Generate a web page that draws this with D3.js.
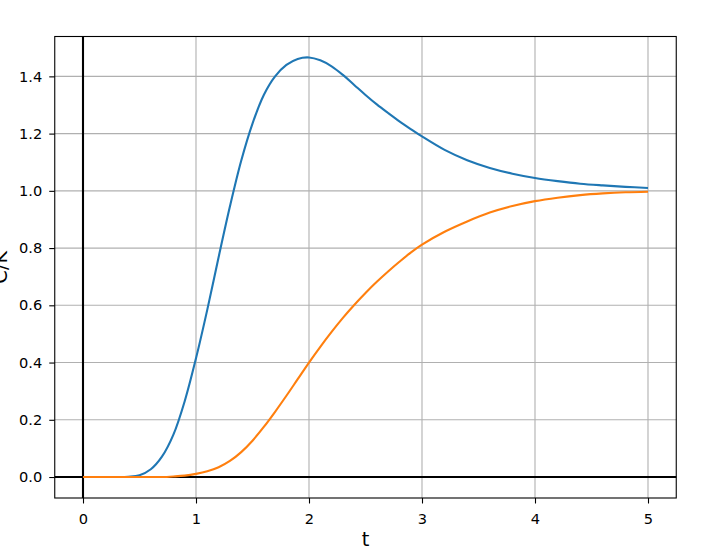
<!DOCTYPE html>
<html>
<head>
<meta charset="utf-8">
<script src="https://cdn.jsdelivr.net/npm/d3@7"></script>
<style>
  body { margin: 0; background: #fff; }
  svg { display: block; }
  text { font-family: "DejaVu Sans", sans-serif; font-size: 14.6px; fill: #000; }
</style>
</head>
<body>
<div id="viz"></div>
<script>
// time points and the two step responses
var tValues = [0, 0.1, 0.2, 0.3, 0.4, 0.5, 0.6, 0.7, 0.8, 0.9,
               1.0, 1.1, 1.2, 1.3, 1.4, 1.5, 1.6, 1.7, 1.8, 1.9,
               2.0, 2.1, 2.2, 2.3, 2.4, 2.5, 2.6, 2.7, 2.8, 2.9,
               3.0, 3.2, 3.4, 3.6, 3.8, 4.0, 4.2, 4.4, 4.6, 4.8, 5.0];
var blueValues = [0, 0, 0, 0, 0.001, 0.006, 0.027, 0.072, 0.148, 0.265,
                  0.415, 0.585, 0.768, 0.945, 1.105, 1.235, 1.335, 1.40, 1.44, 1.461,
                  1.466, 1.456, 1.435, 1.405, 1.37, 1.335, 1.302, 1.272, 1.243, 1.216,
                  1.19, 1.143, 1.107, 1.08, 1.06, 1.045, 1.034, 1.025, 1.019, 1.014, 1.01];
var orangeValues = [0, 0, 0, 0, 0, 0, 0, 0, 0.002, 0.005,
                    0.011, 0.02, 0.034, 0.056, 0.087, 0.127, 0.175, 0.228, 0.284, 0.342,
                    0.40, 0.455, 0.507, 0.556, 0.601, 0.643, 0.682, 0.718, 0.752, 0.784,
                    0.812, 0.857, 0.893, 0.924, 0.947, 0.964, 0.976, 0.985, 0.991, 0.995, 0.997];
var xTicks = [0, 1, 2, 3, 4, 5];
var yTicks = [0, 0.2, 0.4, 0.6, 0.8, 1.0, 1.2, 1.4];
var xLabel = 't';
var yLabel = 'C/K';
var colors = ['#1f77b4', '#ff7f0e'];

var W = 724, H = 550;
// plot box (don't call these top/left: window.top is read-only)
var boxL = 54.75, boxR = 676.25, boxT = 36.5, boxB = 498;

var svg = d3.select('#viz')
    .append('svg')
    .attr('width', W)
    .attr('height', H);

// matplotlib-like 5% margins
var xExt = d3.extent(tValues);
var xPad = (xExt[1] - xExt[0]) * 0.05;
var yExt = d3.extent(blueValues.concat(orangeValues));
var yPad = (yExt[1] - yExt[0]) * 0.05;

var x = d3.scaleLinear().domain([xExt[0] - xPad, xExt[1] + xPad]).range([boxL, boxR]);
var y = d3.scaleLinear().domain([yExt[0] - yPad, yExt[1] + yPad]).range([boxB, boxT]);

// grid
var grid = svg.append('g');
grid.selectAll('.gx').data(xTicks).enter().append('line')
    .attr('x1', function(d){ return x(d); })
    .attr('x2', function(d){ return x(d); })
    .attr('y1', boxT).attr('y2', boxB)
    .style('stroke', '#b0b0b0').style('stroke-width', 1.1);
grid.selectAll('.gy').data(yTicks).enter().append('line')
    .attr('y1', function(d){ return y(d); })
    .attr('y2', function(d){ return y(d); })
    .attr('x1', boxL).attr('x2', boxR)
    .style('stroke', '#b0b0b0').style('stroke-width', 1.1);

// zero lines
svg.append('line')
    .attr('x1', boxL).attr('x2', boxR)
    .attr('y1', y(0)).attr('y2', y(0))
    .style('stroke', '#000').style('stroke-width', 2.1);
svg.append('line')
    .attr('x1', x(0)).attr('x2', x(0))
    .attr('y1', boxT).attr('y2', boxB)
    .style('stroke', '#000').style('stroke-width', 2.1);

// curves
var series = [blueValues, orangeValues];
var line = d3.line()
    .x(function(d, i){ return x(tValues[i]); })
    .y(function(d){ return y(d); })
    .curve(d3.curveCatmullRom.alpha(0.5));

svg.selectAll('.curve').data(series).enter().append('path')
    .attr('d', line)
    .style('fill', 'none')
    .style('stroke', function(d, i){ return colors[i]; })
    .style('stroke-width', 2.1)
    .style('stroke-linejoin', 'round')
    .style('stroke-linecap', 'butt');

// axes
var xAxis = d3.axisBottom(x).tickValues(xTicks).tickFormat(d3.format('d'))
    .tickSizeInner(5.5).tickSizeOuter(0).tickPadding(10);
var yAxis = d3.axisLeft(y).tickValues(yTicks).tickFormat(d3.format('.1f'))
    .tickSizeInner(5.5).tickSizeOuter(0).tickPadding(7);

var gx = svg.append('g').attr('transform', 'translate(0,' + boxB + ')').call(xAxis);
var gy = svg.append('g').attr('transform', 'translate(' + boxL + ',0)').call(yAxis);
[gx, gy].forEach(function(g){
    g.select('.domain').remove();
    g.selectAll('line').style('stroke', '#000').style('stroke-width', 1.1);
    g.selectAll('text').style('font-family', '"DejaVu Sans", sans-serif')
        .style('font-size', '14.6px').style('fill', '#000');
});

// frame
svg.append('rect')
    .attr('x', boxL).attr('y', boxT)
    .attr('width', boxR - boxL).attr('height', boxB - boxT)
    .style('fill', 'none').style('stroke', '#000').style('stroke-width', 1.1);

// labels
svg.append('text')
    .attr('x', (boxL + boxR) / 2).attr('y', 546)
    .attr('text-anchor', 'middle')
    .style('font-size', '19.4px')
    .text(xLabel);
svg.append('text')
    .attr('transform', 'translate(6.5,' + (boxT + boxB) / 2 + ') rotate(-90)')
    .attr('text-anchor', 'middle')
    .style('font-size', '19.4px')
    .text(yLabel);
</script>
</body>
</html>
